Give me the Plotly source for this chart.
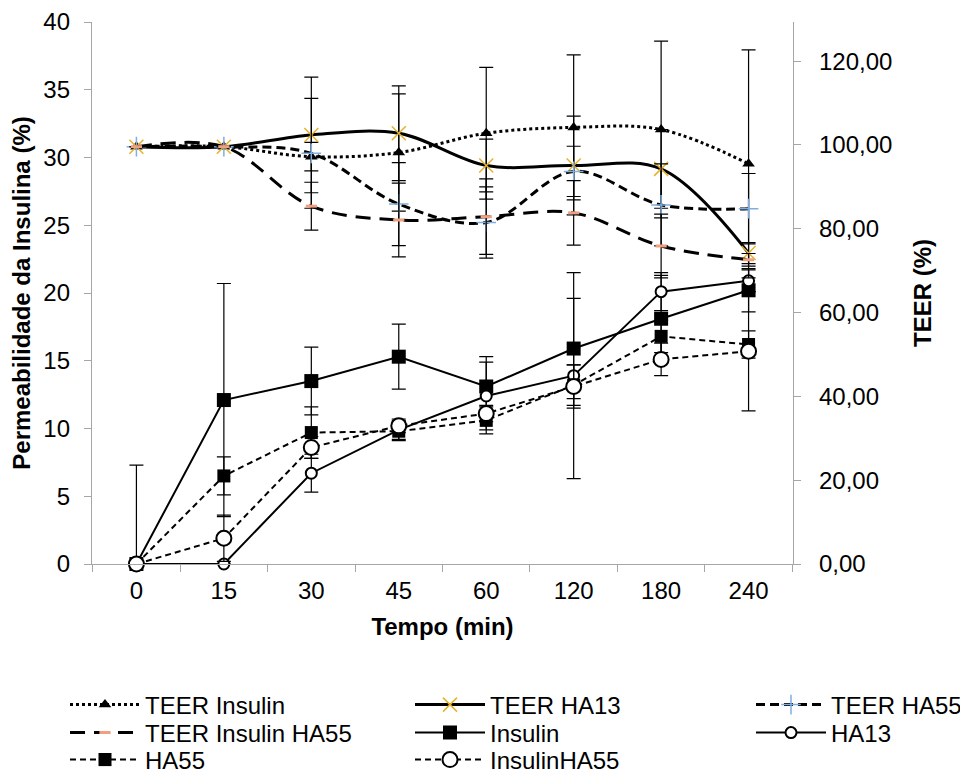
import plotly.graph_objects as go

# ---------------- data ----------------
times = ["0", "15", "30", "45", "60", "120", "180", "240"]

# Permeabilidade da Insulina (%) - left axis
insulin = [0, 12.1, 13.5, 15.3, 13.1, 15.9, 18.1, 20.2]
insulin_err = [7.3, 8.6, 2.5, 2.4, 2.2, 3.7, 3.2, 1.6]
ha13 = [0, 0, 6.7, 9.9, 12.4, 13.9, 20.1, 20.9]
ha13_err = [0, 0, 1.4, 0.7, 2.5, 7.6, 1.4, 0.8]
ha55 = [0, 6.5, 9.7, 9.8, 10.6, 13.2, 16.8, 16.2]
ha55_err = [0, 1.4, 1.9, 0.7, 1.0, 1.5, 1.2, 1.0]
insulinha55 = [0, 1.9, 8.6, 10.2, 11.1, 13.1, 15.1, 15.7]
insulinha55_err = [0, 1.7, 0.8, 0.5, 0.6, 1.6, 1.2, 4.4]

# TEER (%) - right axis
teer_insulin = [99.6, 99.6, 97.2, 98.2, 102.8, 104.2, 103.7, 95.5]
teer_insulin_err = [0, 0, 3.4, 14.0, 15.7, 17.3, 21.1, 27.2]
teer_ha13 = [99.6, 99.6, 102.4, 102.8, 95.1, 95.1, 94.3, 74.2]
teer_ha13_err = [0, 0, 13.8, 11.3, 6.3, 11.8, 9.4, 2.5]
teer_ha55 = [99.6, 99.6, 98.0, 85.9, 81.5, 93.7, 85.7, 84.8]
teer_ha55_err = [0, 0, 13.1, 9.9, 8.5, 6.0, 9.8, 8.4]
teer_insha55 = [99.6, 99.6, 85.4, 82.1, 82.9, 83.8, 75.9, 72.6]
teer_insha55_err = [0, 0, 5.7, 8.8, 9.0, 7.7, 7.6, 1.5]

teer_ticks = [0, 20, 40, 60, 80, 100, 120]
teer_ticktext = ["0,00", "20,00", "40,00", "60,00", "80,00", "100,00", "120,00"]

FONT = "Liberation Sans, Arial, sans-serif"
AXC = "#a6a6a6"
FS = 24

# figure geometry (px); the page body adds an 8px offset
W, H = 960, 767
ML, MR, MT, MB = 84, 175, 14, 211
PW, PH = W - ML - MR, H - MT - MB
OFF = 8


def err(vals, errs):
    return dict(type="data", symmetric=False, array=errs,
                arrayminus=[min(e, v) for v, e in zip(vals, errs)],
                color="black", thickness=1.2, width=7)


fig = go.Figure()

# TEER series (smoothed, right axis)
fig.add_trace(go.Scatter(
    x=times, y=teer_insulin, name="TEER Insulin", yaxis="y2", legend="legend",
    mode="lines+markers", line=dict(color="black", width=3, dash="dot", shape="spline"),
    marker=dict(symbol="triangle-up", size=11, color="black"),
    error_y=err(teer_insulin, teer_insulin_err), cliponaxis=False))
fig.add_trace(go.Scatter(
    x=times, y=teer_ha13, name="TEER HA13", yaxis="y2", legend="legend2",
    mode="lines+markers", line=dict(color="black", width=3, shape="spline"),
    marker=dict(symbol="x-thin", size=14, color="#E6B22E",
                line=dict(color="#E6B22E", width=1.5)),
    error_y=err(teer_ha13, teer_ha13_err), cliponaxis=False))
fig.add_trace(go.Scatter(
    x=times, y=teer_ha55, name="TEER HA55", yaxis="y2", legend="legend3",
    mode="lines+markers", line=dict(color="black", width=3, dash="9px,5px", shape="spline"),
    marker=dict(symbol="cross-thin", size=14, color="#7FAEE0",
                line=dict(color="#7FAEE0", width=1.5)),
    error_y=err(teer_ha55, teer_ha55_err), cliponaxis=False))
fig.add_trace(go.Scatter(
    x=times, y=teer_insha55, name="TEER Insulin HA55", yaxis="y2", legend="legend4",
    mode="lines+markers", line=dict(color="black", width=3, dash="15px,9px", shape="spline"),
    marker=dict(symbol="line-ew", size=8, color="#F0A080",
                line=dict(color="#F0A080", width=3)),
    error_y=err(teer_insha55, teer_insha55_err), cliponaxis=False))

# Permeability series (left axis)
fig.add_trace(go.Scatter(
    x=times, y=insulin, name="Insulin", legend="legend5",
    mode="lines+markers", line=dict(color="black", width=2),
    marker=dict(symbol="square", size=14, color="black"),
    error_y=err(insulin, insulin_err), cliponaxis=False))
fig.add_trace(go.Scatter(
    x=times, y=ha13, name="HA13", legend="legend6",
    mode="lines+markers", line=dict(color="black", width=2),
    marker=dict(symbol="circle", size=11, color="white", line=dict(color="black", width=2)),
    error_y=err(ha13, ha13_err), cliponaxis=False))
fig.add_trace(go.Scatter(
    x=times, y=ha55, name="HA55", legend="legend7",
    mode="lines+markers", line=dict(color="black", width=2, dash="6px,4px"),
    marker=dict(symbol="square", size=13, color="black"),
    error_y=err(ha55, ha55_err), cliponaxis=False))
fig.add_trace(go.Scatter(
    x=times, y=insulinha55, name="InsulinHA55", legend="legend8",
    mode="lines+markers", line=dict(color="black", width=2, dash="6px,4px"),
    marker=dict(symbol="circle", size=15, color="white", line=dict(color="black", width=2)),
    error_y=err(insulinha55, insulinha55_err), cliponaxis=False))

# legend grid: 3 columns x 3 rows (screen-pixel anchors)
col_px = [65, 410, 751]
row_px = [705, 733, 760]
legend_names = ["legend", "legend2", "legend3", "legend4",
                "legend5", "legend6", "legend7", "legend8"]
legends = {}
for i, name in enumerate(legend_names):
    r, c = divmod(i, 3)
    legends[name] = dict(
        x=(col_px[c] - OFF - ML) / PW, y=(MT + PH - (row_px[r] - OFF)) / PH,
        xanchor="left", yanchor="middle", orientation="v",
        font=dict(family=FONT, size=FS, color="black"),
        bgcolor="rgba(0,0,0,0)", itemwidth=70)

fig.update_layout(
    width=W, height=H,
    margin=dict(l=ML, r=MR, t=MT, b=MB, autoexpand=False),
    paper_bgcolor="white", plot_bgcolor="white",
    font=dict(family=FONT, size=FS, color="black"),
    showlegend=True,
    **legends,
    xaxis=dict(type="category", categoryarray=times, categoryorder="array",
               showline=True, linecolor=AXC, linewidth=1.3,
               ticks="outside", ticklen=7, tickcolor=AXC, tickson="boundaries",
               showgrid=False, zeroline=False, ticklabelstandoff=5,
               tickfont=dict(family=FONT, size=FS, color="black"),
               title=dict(text="Tempo (min)", standoff=15,
                          font=dict(family=FONT, size=FS, color="black", weight="bold"))),
    yaxis=dict(range=[0, 40], dtick=5, showline=True, linecolor=AXC, linewidth=1.3,
               ticks="outside", ticklen=7, tickcolor=AXC, showgrid=False, zeroline=False,
               ticklabelstandoff=9,
               tickfont=dict(family=FONT, size=FS, color="black"),
               title=dict(text="Permeabilidade da Insulina (%)", standoff=8,
                          font=dict(family=FONT, size=FS, color="black", weight="bold"))),
    yaxis2=dict(overlaying="y", side="right", range=[0, 129.35],
                tickvals=teer_ticks, ticktext=teer_ticktext,
                showline=True, linecolor=AXC, linewidth=1.3,
                ticks="outside", ticklen=7, tickcolor=AXC, showgrid=False, zeroline=False,
                ticklabelstandoff=13,
                tickfont=dict(family=FONT, size=FS, color="black"),
                title=dict(text="TEER (%)", standoff=22,
                           font=dict(family=FONT, size=FS, color="black", weight="bold"))),
)

fig.write_html("out.html")
